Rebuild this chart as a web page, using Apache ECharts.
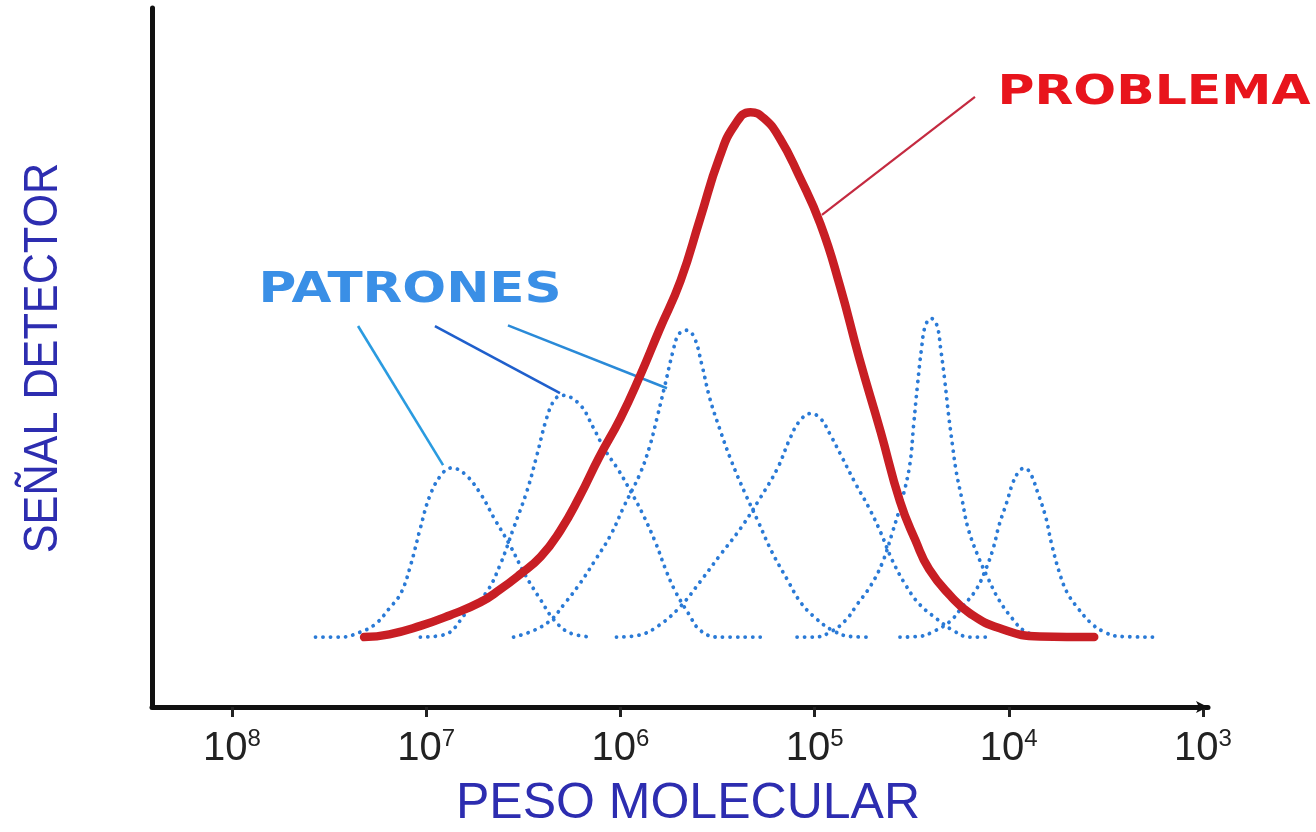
<!DOCTYPE html>
<html><head><meta charset="utf-8">
<script src="https://cdn.jsdelivr.net/npm/echarts@6/dist/echarts.min.js"></script>
<style>html,body{margin:0;padding:0;background:#fff}#c{width:1316px;height:832px}</style>
</head><body><div id="c"></div>
<script>
// x values are log10(molecular weight); y is detector signal (arbitrary units)
const tickExponents = [8, 7, 6, 5, 4, 3];

const problemaLog    = [7.32,7.19,7.03,6.88,6.72,6.62,6.52,6.41,6.31,6.21,6.11,6.00,5.90,5.80,5.69,5.59,5.49,5.41,5.33,5.26,5.18,5.08,4.97,4.87,4.77,4.66,4.56,4.48,4.41,4.30,4.20,4.05,3.84,3.56];
const problemaSignal = [0,0.4,1.6,3.1,5.0,6.8,8.9,11.5,15.2,20.1,25.7,31.3,37.3,43.9,51.0,59.8,68.6,73.3,75.1,74.2,71.4,66.0,59.1,50.3,39.9,29.4,19.4,13.8,9.7,5.9,3.4,1.3,0.1,0];

const patron1Log    = [7.57,7.44,7.34,7.26,7.19,7.13,7.08,7.03,6.98,6.92,6.87,6.80,6.72,6.65,6.57,6.49,6.41,6.34,6.26,6.14];
const patron1Signal = [0,0,0.7,1.9,4.1,6.3,10.3,15.6,20.3,23.3,24.2,23.3,20.5,17.0,13.2,8.9,5.3,2.4,0.6,0];

const patron2Log    = [7.03,6.90,6.79,6.69,6.62,6.55,6.48,6.43,6.38,6.34,6.30,6.21,6.14,6.08,6.01,5.95,5.89,5.82,5.77,5.72,5.65,5.59,5.50,5.28];
const patron2Signal = [0,0.4,3.6,6.4,10.3,15.6,21.0,26.0,31.3,33.9,34.6,33.3,30.0,26.8,23.9,21.0,17.9,13.6,9.9,6.7,3.4,1.0,0,0];

const patron3Log    = [6.55,6.45,6.36,6.29,6.21,6.13,6.05,5.98,5.90,5.85,5.81,5.77,5.73,5.70,5.66,5.62,5.58,5.54,5.49,5.43,5.36,5.29,5.22,5.14,5.07,4.99,4.91,4.82,4.71];
const patron3Signal = [0,0.9,2.4,4.7,7.6,11.0,14.6,18.8,23.3,27.2,31.5,36.1,40.8,43.3,43.9,42.9,38.9,34.2,29.9,25.3,20.7,16.5,12.2,8.2,4.9,2.6,1.0,0.1,0];

const patron4Log    = [6.02,5.90,5.80,5.69,5.59,5.49,5.38,5.28,5.19,5.13,5.08,5.02,4.97,4.92,4.86,4.79,4.72,4.66,4.60,4.53,4.46,4.37,4.29,4.20,4.10];
const patron4Signal = [0,0.3,1.7,4.4,7.9,11.6,15.6,19.9,24.2,28.2,30.8,32.0,31.3,29.0,25.8,22.0,18.5,15.0,11.0,7.4,4.7,2.6,1.0,0,0];

const patron5Log    = [5.09,5.00,4.92,4.84,4.78,4.71,4.65,4.60,4.55,4.51,4.49,4.47,4.45,4.43,4.40,4.37,4.35,4.33,4.31,4.29,4.27,4.24,4.21,4.16,4.11,4.05,3.98,3.92,3.81,3.74];
const patron5Signal = [0,0,0.7,2.4,4.7,7.4,10.7,14.9,19.6,24.6,30.3,36.1,41.1,44.5,45.6,44.6,41.1,36.8,31.8,27.5,23.6,19.6,15.6,11.7,8.6,5.3,2.6,0.9,0,0];

const patron6Log    = [4.56,4.46,4.38,4.30,4.24,4.17,4.12,4.08,4.05,4.01,3.98,3.95,3.92,3.89,3.85,3.81,3.78,3.74,3.70,3.64,3.58,3.52,3.43,3.24];
const patron6Signal = [0,0.1,0.9,2.3,4.3,6.7,9.6,12.7,16.0,19.3,22.0,23.6,24.2,23.5,20.6,17.2,13.4,9.3,6.4,4.0,2.1,0.9,0.1,0];

const labelProblema = 'PROBLEMA';
const labelPatrones = 'PATRONES';
const axisTitleX = 'PESO MOLECULAR';
const axisTitleY = 'SEÑAL DETECTOR';

// annotation anchors (data coordinates)
const annotations = {
  problemaText: [3.252, 77.8],
  patronesText: [7.083, 49.5],
  problemaLeader: [[4.174, 77.3], [4.962, 60.4]],
  patronLeaders: [
    [[7.351, 44.5], [6.913, 24.6]],
    [[6.955, 44.5], [6.311, 34.9]],
    [[6.579, 44.6], [5.760, 35.6]]
  ]
};

const pair = (xs, ys) => xs.map((x, i) => [x, ys[i]]);
const patrons = [
  pair(patron1Log, patron1Signal), pair(patron2Log, patron2Signal), pair(patron3Log, patron3Signal),
  pair(patron4Log, patron4Signal), pair(patron5Log, patron5Signal), pair(patron6Log, patron6Signal)
];

const chart = echarts.init(document.getElementById('c'), null, {renderer: 'canvas'});

const blueDot = {color: '#2a7ad6', width: 3.8, type: [0.1, 7.4], cap: 'round'};
const leaderColors = ['#2a9be0', '#1f5fcc', '#2a8ad8'];

const series = [];
patrons.forEach(d => series.push({
  type: 'line', data: d, smooth: 0.4, symbol: 'none', silent: true,
  lineStyle: blueDot, z: 2
}));
annotations.patronLeaders.forEach((d, i) => series.push({
  type: 'line', data: d, symbol: 'none', silent: true,
  lineStyle: {color: leaderColors[i], width: 2.6}, z: 3
}));
series.push({
  type: 'line', data: pair(problemaLog, problemaSignal), smooth: 0.5, symbol: 'none', silent: true,
  lineStyle: {color: '#c81e24', width: 8.5, cap: 'round', join: 'round'}, z: 5
});
series.push({
  type: 'line', data: annotations.problemaLeader, symbol: 'none', silent: true,
  lineStyle: {color: '#c42a40', width: 2.2}, z: 4
});

chart.setOption({
  animation: false,
  backgroundColor: '#ffffff',
  grid: {left: 152, right: 108, top: 8, bottom: 125, containLabel: false},
  xAxis: {
    type: 'value', min: 2.974, max: 8.412, inverse: true,
    axisLine: {show: true, onZero: false, symbol: ['none', 'arrow'], symbolSize: [9, 12],
               lineStyle: {color: '#111', width: 5}},
    axisTick: {show: true, customValues: tickExponents, length: 10, lineStyle: {color: '#222', width: 3}},
    axisLabel: {
      show: true, customValues: tickExponents, margin: 20,
      formatter: v => '{b|10}{s|' + Math.round(v) + '}',
      rich: {
        b: {fontFamily: 'Liberation Sans', fontSize: 40, color: '#222', verticalAlign: 'bottom', lineHeight: 42},
        s: {fontFamily: 'Liberation Sans', fontSize: 24, color: '#222', verticalAlign: 'top', lineHeight: 42}
      }
    },
    splitLine: {show: false}
  },
  yAxis: {
    type: 'value', min: -10, max: 90,
    axisLine: {show: true, onZero: false, lineStyle: {color: '#111', width: 5}},
    axisTick: {show: false}, axisLabel: {show: false}, splitLine: {show: false}
  },
  series
});

const pProb = chart.convertToPixel({gridIndex: 0}, annotations.problemaText);
const pPat = chart.convertToPixel({gridIndex: 0}, annotations.patronesText);

chart.setOption({
  graphic: [
    {type: 'text', x: pProb[0], y: pProb[1], scaleX: 1.23, z: 10,
     style: {text: labelProblema, font: 'bold 41px "DejaVu Sans"', fill: '#e8141c', align: 'center', verticalAlign: 'middle'}},
    {type: 'text', x: pPat[0], y: pPat[1], scaleX: 1.2, z: 10,
     style: {text: labelPatrones, font: 'bold 43px "DejaVu Sans"', fill: '#3a8fe6', align: 'center', verticalAlign: 'middle'}},
    {type: 'text', x: 688, y: 804, z: 10,
     style: {text: axisTitleX, font: '50px "Liberation Sans"', fill: '#2d2db0', align: 'center', verticalAlign: 'middle'}},
    {type: 'text', x: 44, y: 358, rotation: Math.PI / 2, scaleX: 0.9, z: 10,
     style: {text: axisTitleY, font: '48px "Liberation Sans"', fill: '#2d2db0', align: 'center', verticalAlign: 'middle'}}
  ]
});
</script>
</body></html>
